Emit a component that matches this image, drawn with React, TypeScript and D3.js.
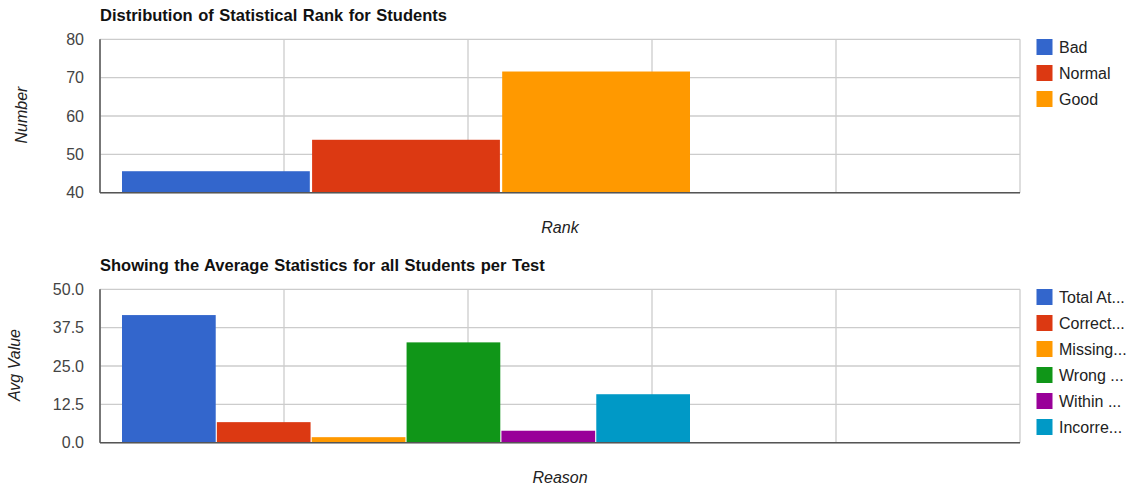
import React from "react";
import * as d3 from "d3";

const rankSeries = ["Bad", "Normal", "Good"];
const rankValues = [45.6, 53.8, 71.6];
const rankTicks = [40, 50, 60, 70, 80];

const reasonSeries = ["Total At...", "Correct...", "Missing...", "Wrong ...", "Within ...", "Incorre..."];
const reasonValues = [41.6, 6.7, 1.8, 32.7, 3.9, 15.8];
const reasonTicks = [0, 12.5, 25, 37.5, 50];

const palette = ["#3366cc", "#dc3912", "#ff9900", "#109618", "#990099", "#0099c6"];

const W = 1135;
const H = 489;
const FONT = "Arial, 'Liberation Sans', sans-serif";

type PanelProps = {
  top: number;
  title: string;
  yTitle: string;
  yTitleX: number;
  xTitle: string;
  series: string[];
  values: number[];
  ticks: number[];
  fmt: (v: number) => string;
};

function Panel({ top, title, yTitle, yTitleX, xTitle, series, values, ticks, fmt }: PanelProps) {
  const left = 100;
  const right = 1020;
  const plotTop = top + 39.3;
  const plotBottom = top + 192.7;
  const y = d3
    .scaleLinear()
    .domain([ticks[0], ticks[ticks.length - 1]])
    .range([plotBottom, plotTop]);
  const xGrid = d3.scaleLinear().domain([0, 5]).range([left, right]);
  const gridX = d3.range(0, 6);
  const groupStart = 122;
  const groupEnd = 690;
  const band = d3
    .scaleBand<string>()
    .domain(series)
    .range([groupStart, groupEnd])
    .paddingInner(0.012);
  return (
    <g>
      <text x={left} y={top + 21} fontFamily={FONT} fontWeight="bold" fontSize={16.5} wordSpacing={1} fill="#111">
        {title}
      </text>
      {ticks.map((t) => (
        <line key={"h" + t} x1={left} x2={right} y1={y(t)} y2={y(t)} stroke="#cccccc" strokeWidth={1.3} />
      ))}
      {gridX.map((g) => (
        <line key={"v" + g} x1={xGrid(g)} x2={xGrid(g)} y1={plotTop} y2={plotBottom} stroke="#cccccc" strokeWidth={1.3} />
      ))}
      {series.map((s, i) => (
        <rect
          key={s}
          x={band(s)!}
          width={band.bandwidth()}
          y={y(values[i])}
          height={plotBottom - y(values[i])}
          fill={palette[i]}
        />
      ))}
      <line x1={left} x2={right} y1={plotBottom} y2={plotBottom} stroke="#555" strokeWidth={1.5} />
      <line x1={left} x2={left} y1={plotTop} y2={plotBottom} stroke="#555" strokeWidth={1.5} />
      {ticks.map((t) => (
        <text
          key={"t" + t}
          x={left - 16}
          y={y(t)}
          dy="0.36em"
          textAnchor="end"
          fontFamily={FONT}
          fontSize={16}
          fill="#444"
        >
          {fmt(t)}
        </text>
      ))}
      <text
        transform={`translate(${yTitleX},${(plotTop + plotBottom) / 2 - 1}) rotate(-90)`}
        textAnchor="middle"
        fontFamily={FONT}
        fontStyle="italic"
        fontSize={16}
        fill="#222"
      >
        {yTitle}
      </text>
      <text
        x={(left + right) / 2}
        y={top + 233}
        textAnchor="middle"
        fontFamily={FONT}
        fontStyle="italic"
        fontSize={16}
        fill="#222"
      >
        {xTitle}
      </text>
      {series.map((s, i) => (
        <g key={"l" + s} transform={`translate(1036.5,${top + 39 + i * 26})`}>
          <rect width={16} height={16} fill={palette[i]} />
          <text x={22.5} y={8} dy="0.36em" fontFamily={FONT} fontSize={16} fill="#222">
            {s}
          </text>
        </g>
      ))}
    </g>
  );
}

export default function App() {
  return (
    <svg
      width={W}
      height={H}
      style={{ position: "absolute", left: 0, top: 0, background: "#fff" }}
    >
      <rect width={W} height={H} fill="#fff" />
      <Panel
        top={0}
        title="Distribution of Statistical Rank for Students"
        yTitle="Number"
        yTitleX={27}
        xTitle="Rank"
        series={rankSeries}
        values={rankValues}
        ticks={rankTicks}
        fmt={(v) => d3.format("d")(v)}
      />
      <Panel
        top={250}
        title="Showing the Average Statistics for all Students per Test"
        yTitle="Avg Value"
        yTitleX={20}
        xTitle="Reason"
        series={reasonSeries}
        values={reasonValues}
        ticks={reasonTicks}
        fmt={(v) => d3.format(".1f")(v)}
      />
    </svg>
  );
}
